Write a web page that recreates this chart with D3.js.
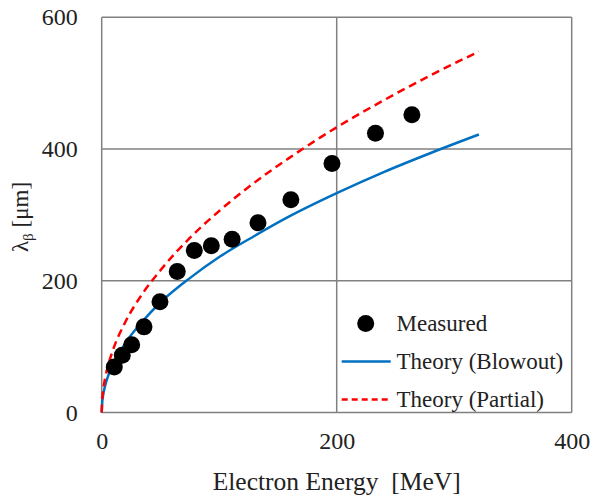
<!DOCTYPE html>
<head>
	<meta charset="utf-8">
	<script src="https://d3js.org/d3.v7.min.js"></script>
	<style type="text/css">
		body { margin: 0; background: #fff; }
		text { font-family: "Liberation Serif", "Times New Roman", serif; font-size: 23px; fill: #222; }
		.tick text { font-size: 24px; }
		.grid line { stroke: #808080; stroke-width: 1.5; }
	</style>
</head>
<body>
	<script type="text/javascript">
		// data
		let xTicks = [0, 200, 400],
			yTicks = [0, 200, 400, 600];

		let measuredE = [10.7, 17.5, 25.5, 36, 49.6, 64.3, 78.8, 93.3, 111, 133, 161, 196, 233, 264],
			measuredL = [69, 87, 103, 130, 168, 214, 246, 253, 263, 288, 323, 378, 424, 452];

		let theoryE = [0, 0.5, 1, 3, 6, 10, 20, 35, 50, 75, 100, 130, 160, 200, 240, 280, 321],
			blowoutL = [0, 17, 24, 41, 58, 74, 105, 139, 167, 204, 236, 268, 298, 333, 365, 394, 422],
			partialL = [0, 22, 31, 53, 75, 97, 137, 181, 216, 265, 306, 349, 387, 433, 474, 512, 548];

		let legendNames = ["Measured", "Theory (Blowout)", "Theory (Partial)"];
	</script>
	<script type="text/javascript">
		let w = 592, h = 498,
			padL = 101.7, padT = 17.3, pw = 470, ph = 395.2;

		let svg = d3.select("body").append("svg")
			.attr("width", w)
			.attr("height", h);

		let x = d3.scaleLinear().domain([0, 400]).range([padL, padL + pw]);
		let y = d3.scaleLinear().domain([0, 600]).range([padT + ph, padT]);

		// grid + frame
		let grid = svg.append("g").attr("class", "grid");
		grid.selectAll("line.v").data(xTicks).enter().append("line")
			.attr("x1", d => x(d)).attr("x2", d => x(d))
			.attr("y1", y(0)).attr("y2", y(600));
		grid.selectAll("line.h").data(yTicks).enter().append("line")
			.attr("y1", d => y(d)).attr("y2", d => y(d))
			.attr("x1", x(0)).attr("x2", x(400));

		// tick labels
		svg.append("g")
			.attr("transform", "translate(" + (padL - 24) + ",0)")
			.call(d3.axisLeft(y).tickValues(yTicks).tickSize(0).tickPadding(0))
			.call(g => g.select(".domain").remove())
			.call(g => g.attr("font-size", null).attr("font-family", null));

		svg.append("g")
			.attr("transform", "translate(0," + (y(0) + 19) + ")")
			.call(d3.axisBottom(x).tickValues(xTicks).tickSize(0).tickPadding(0))
			.call(g => g.select(".domain").remove())
			.call(g => g.attr("font-size", null).attr("font-family", null));

		// theory curves
		let line = vals => d3.line()
			.x((d, i) => x(theoryE[i]))
			.y((d, i) => y(vals[i]))
			.curve(d3.curveMonotoneX)(vals);

		svg.append("path")
			.attr("d", line(blowoutL))
			.attr("fill", "none")
			.attr("stroke", "#0070C0")
			.attr("stroke-width", 2.5);

		svg.append("path")
			.attr("d", line(partialL))
			.attr("fill", "none")
			.attr("stroke", "#FF0000")
			.attr("stroke-width", 2.5)
			.attr("stroke-dasharray", "8,5");

		// measured points
		svg.selectAll("circle.m").data(measuredE).enter().append("circle")
			.attr("cx", d => x(d))
			.attr("cy", (d, i) => y(measuredL[i]))
			.attr("r", 8.5)
			.attr("fill", "#000");

		// legend
		let lg = svg.append("g");
		let rows = [323.5, 361.5, 399.5];
		lg.append("circle").attr("cx", 365.7).attr("cy", rows[0]).attr("r", 8.5).attr("fill", "#000");
		lg.append("line").attr("x1", 341.7).attr("x2", 390.7).attr("y1", rows[1]).attr("y2", rows[1])
			.attr("stroke", "#0070C0").attr("stroke-width", 2.5);
		lg.append("line").attr("x1", 341.7).attr("x2", 390.7).attr("y1", rows[2]).attr("y2", rows[2])
			.attr("stroke", "#FF0000").attr("stroke-width", 2.5).attr("stroke-dasharray", "6,4");
		lg.selectAll("text").data(legendNames).enter().append("text")
			.attr("x", 396.5)
			.attr("y", (d, i) => rows[i])
			.attr("dy", "0.33em")
			.text(d => d);

		// axis titles
		svg.append("text")
			.attr("x", x(200))
			.attr("y", 482)
			.attr("dy", "0.33em")
			.attr("text-anchor", "middle")
			.style("font-size", "25.5px")
			.style("white-space", "pre")
			.text("Electron Energy  [MeV]");

		let yt = svg.append("text")
			.attr("transform", "translate(20,217) rotate(-90)")
			.attr("dy", "0.33em")
			.attr("text-anchor", "middle");
		yt.append("tspan").text("λ");
		yt.append("tspan").attr("font-size", "15px").attr("dy", "5").text("β");
		yt.append("tspan").attr("dy", "-5").text(" [μm]");
	</script>
</body>
</html>
